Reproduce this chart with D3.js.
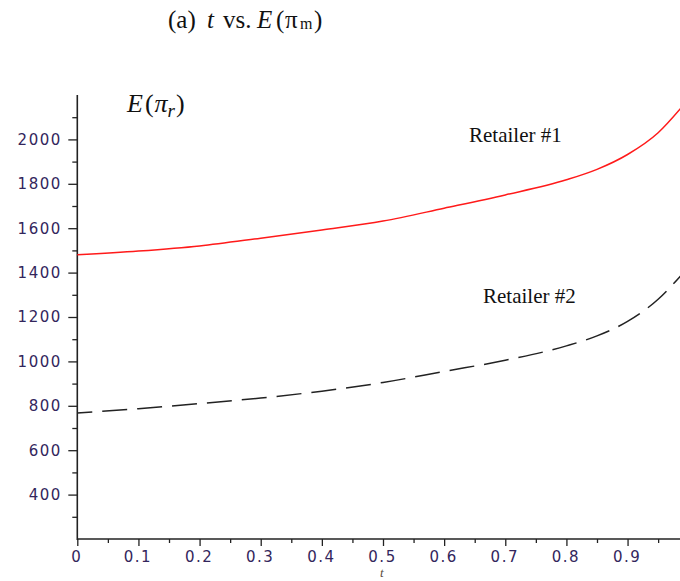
<!DOCTYPE html>
<html>
<head>
<meta charset="utf-8">
<script src="https://cdn.jsdelivr.net/npm/d3@7"></script>
<style>
  body { margin: 0; background: #fff; }
  svg { display: block; }
</style>
</head>
<body>
<div id="chart"></div>
<script>
// values
var tValues = [0, 0.1, 0.2, 0.3, 0.4, 0.5, 0.6, 0.7, 0.8, 0.85, 0.9, 0.95, 0.99];
var retailer1 = [1480, 1497, 1520, 1555, 1592, 1632, 1690, 1750, 1818, 1865, 1932, 2030, 2150];
var retailer2 = [768, 787, 810, 835, 866, 905, 955, 1005, 1070, 1115, 1180, 1280, 1395];
var yTicks = [400, 600, 800, 1000, 1200, 1400, 1600, 1800, 2000];
var yMinor = [300, 500, 700, 900, 1100, 1300, 1500, 1700, 1900, 2100];
var xTicks = [0, 0.1, 0.2, 0.3, 0.4, 0.5, 0.6, 0.7, 0.8, 0.9];
var xMinor = [0.05, 0.15, 0.25, 0.35, 0.45, 0.55, 0.65, 0.75, 0.85, 0.95];

var width = 680, height = 581;

var svg = d3.select("#chart")
  .append("svg")
    .attr("width", width)
    .attr("height", height);

var x = d3.scaleLinear().domain([0, 1]).range([77.3, 688.7]);
var y = d3.scaleLinear().domain([200, 2200]).range([539, 95]);

var labelColor = "#33265c";

// title
var title = [
  {s: "(a)", x: 168, style: "normal"},
  {s: "t", x: 207, style: "italic"},
  {s: "vs.", x: 223, style: "normal"},
  {s: "E", x: 257, style: "italic"},
  {s: "(", x: 276, style: "normal"},
  {s: "\u03C0", x: 285, style: "normal"},
  {s: "m", x: 300, style: "normal", small: true},
  {s: ")", x: 314, style: "normal"}
];
svg.append("g").selectAll("text")
  .data(title)
  .enter()
  .append("text")
    .attr("x", function(d) { return d.x; })
    .attr("y", function(d) { return d.small ? 29 : 28; })
    .attr("font-family", "'Liberation Serif', serif")
    .attr("font-size", function(d) { return d.small ? 16 : 25; })
    .attr("font-style", function(d) { return d.style; })
    .attr("fill", "#111")
    .text(function(d) { return d.s; });

// Y axis
var yAxis = svg.append("g")
  .attr("transform", "translate(" + x(0) + ",0)")
  .call(d3.axisLeft(y).tickValues(yTicks).tickSize(9).tickPadding(8)
    .tickFormat(d3.format("d")));
yAxis.select(".domain").remove();
yAxis.selectAll("line").attr("stroke", "#222").attr("stroke-width", 1.3);
yAxis.selectAll("text")
  .attr("font-family", "'DejaVu Sans', Verdana, sans-serif")
  .attr("font-size", 15)
  .attr("letter-spacing", 1.5)
  .attr("dx", 1.5)
  .attr("fill", labelColor);

var yAxisMinor = svg.append("g")
  .attr("transform", "translate(" + x(0) + ",0)")
  .call(d3.axisLeft(y).tickValues(yMinor).tickSize(5).tickFormat(""));
yAxisMinor.select(".domain").remove();
yAxisMinor.selectAll("line").attr("stroke", "#222").attr("stroke-width", 1.3);

// X axis
var xAxis = svg.append("g")
  .attr("transform", "translate(0," + y(200) + ")")
  .call(d3.axisBottom(x).tickValues(xTicks).tickSize(7).tickPadding(5)
    .tickFormat(function(d) { return d === 0 ? "0" : d3.format(".1f")(d); }));
xAxis.select(".domain").remove();
xAxis.selectAll("line").attr("stroke", "#222").attr("stroke-width", 1.3);
xAxis.selectAll("text")
  .attr("font-family", "'DejaVu Sans', Verdana, sans-serif")
  .attr("font-size", 15)
  .attr("letter-spacing", 1.5)
  .attr("dx", -1)
  .attr("fill", labelColor);

var xAxisMinor = svg.append("g")
  .attr("transform", "translate(0," + y(200) + ")")
  .call(d3.axisBottom(x).tickValues(xMinor).tickSize(4).tickFormat(""));
xAxisMinor.select(".domain").remove();
xAxisMinor.selectAll("line").attr("stroke", "#222").attr("stroke-width", 1.3);

// axis lines
svg.append("line")
  .attr("x1", x(0)).attr("x2", x(0))
  .attr("y1", y(2200)).attr("y2", y(200) + 1)
  .attr("stroke", "#222").attr("stroke-width", 1.6);
svg.append("line")
  .attr("x1", x(0)).attr("x2", width)
  .attr("y1", y(200)).attr("y2", y(200))
  .attr("stroke", "#222").attr("stroke-width", 1.6);

// curves
var line1 = d3.line()
  .x(function(d, i) { return x(tValues[i]); })
  .y(function(d) { return y(d); })
  .curve(d3.curveMonotoneX);

svg.append("path")
  .datum(retailer1)
  .attr("d", line1)
  .attr("fill", "none")
  .attr("stroke", "#ff1a1a")
  .attr("stroke-width", 1.5);

svg.append("path")
  .datum(retailer2)
  .attr("d", line1)
  .attr("fill", "none")
  .attr("stroke", "#222")
  .attr("stroke-width", 1.5)
  .attr("stroke-dasharray", "25,10")
  .attr("stroke-dashoffset", 10);

// series labels
svg.append("text")
  .attr("x", 469)
  .attr("y", 142)
  .attr("font-family", "'Liberation Serif', serif")
  .attr("font-size", 21)
  .attr("fill", "#111")
  .text("Retailer #1");

svg.append("text")
  .attr("x", 483)
  .attr("y", 303)
  .attr("font-family", "'Liberation Serif', serif")
  .attr("font-size", 21)
  .attr("fill", "#111")
  .text("Retailer #2");

// y axis title
var yTitle = svg.append("text")
  .attr("x", 127)
  .attr("y", 112)
  .attr("font-family", "'Liberation Serif', serif")
  .attr("font-size", 26)
  .attr("fill", "#111");
yTitle.append("tspan").attr("font-style", "italic").text("E");
yTitle.append("tspan").attr("dx", 2).text("(");
yTitle.append("tspan").attr("font-style", "italic").attr("dx", 1).text("\u03C0");
yTitle.append("tspan").attr("font-style", "italic").attr("font-size", 19).attr("dy", 5).text("r");
yTitle.append("tspan").attr("dy", -5).attr("dx", 1).text(")");

// x axis title
svg.append("text")
  .attr("x", 380)
  .attr("y", 577)
  .attr("font-family", "'Liberation Serif', serif")
  .attr("font-style", "italic")
  .attr("font-size", 13)
  .attr("fill", "#5a4a3a")
  .text("t");
</script>
</body>
</html>
